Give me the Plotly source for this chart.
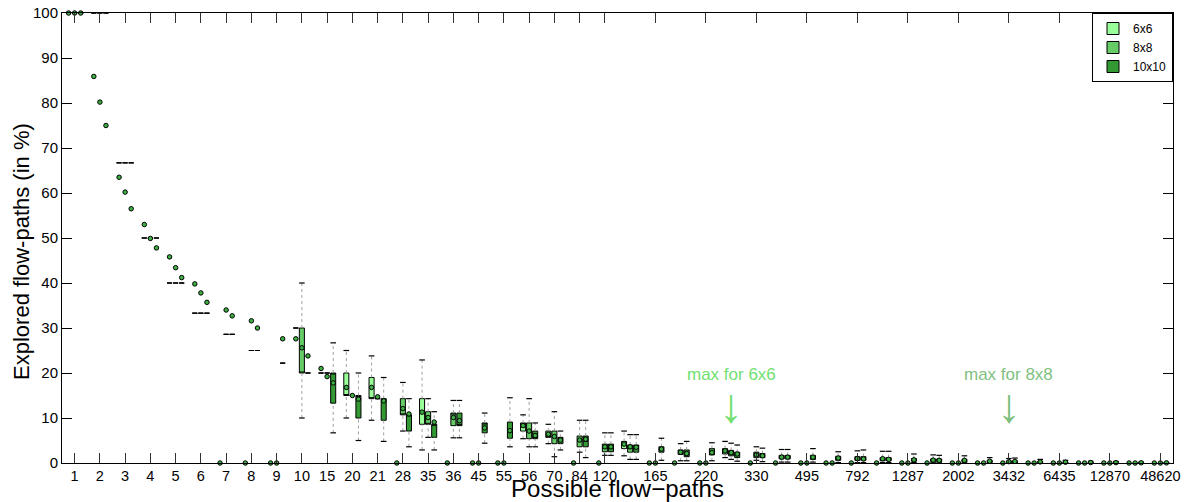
import plotly.graph_objects as go

# ---------------- data ----------------
categories = ["1", "2", "3", "4", "5", "6", "7", "8", "9", "10", "15", "20", "21", "28", "35", "36",
              "45", "55", "56", "70", "84", "120", "126", "165", "210", "220", "252", "330", "462",
              "495", "715", "792", "924", "1287", "1716", "2002", "3003", "3432", "5005", "6435",
              "11440", "12870", "24310", "48620"]
tick_labels = ["1", "2", "3", "4", "5", "6", "7", "8", "9", "10", "15", "20", "21", "28", "35", "36",
               "45", "55", "56", "70", "84", "120", "165", "220", "330", "495", "792", "1287", "2002",
               "3432", "6435", "12870", "48620"]
groups = ["6x6", "8x8", "10x10"]
N = None

# 6x6
q1_6 = [100, 100, 66.7, 50, 40, 33.3, N, N, N, 30, 20, 15, 14.3, N, 8.6, N, N, N, 7.1, 5.7, N, N, 3.2, N, N, N, 2.0] + [N] * 17
q3_6 = [100, 100, 66.7, 50, 40, 33.3, N, N, N, 30, 20, 20, 19.0, N, 14.3, N, N, N, 8.9, 7.1, N, N, 4.8, N, N, N, 3.2] + [N] * 17
med_6 = [100, 100, 66.7, 50, 40, 33.3, N, N, N, 30, 20, 15, 14.3, N, 11.4, N, N, N, 8.9, 5.7, N, N, 4.0, N, N, N, 2.8] + [N] * 17
lo_6 = [100, 100, 66.7, 50, 40, 33.3, N, N, N, 30, 20, 10, 9.5, N, 2.9, N, N, N, 5.4, 4.3, N, N, 1.6, N, N, N, 1.2] + [N] * 17
hi_6 = [100, 100, 66.7, 50, 40, 33.3, N, N, N, 30, 20, 25, 23.8, N, 22.9, N, N, N, 10.7, 8.6, N, N, 7.1, N, N, N, 4.8] + [N] * 17
mean_6 = [100, 85.9, 63.5, 53.0, 45.8, 39.8, 0, 0, 0, 27.6, 21.0, 16.8, 16.8, 0, 11.3, 0, 0, 0, 8.3, 6.4, 0, 0, 4.2, 0, 0, 0, 2.7] + [0] * 17

# 8x8
q1_8 = [100, 100, 66.7, 50, 40, 33.3, 28.6, 25, N, 20, 20, 15, 14.3, 10.7, 8.6, 8.3, N, N, 5.4, 4.3, 3.6, 2.5, 2.4, N, 1.9, N, 1.6, 1.2, 0.9, N, N, 0.6, 0.5, N, 0.35, N, N, 0.15] + [N] * 6
q3_8 = [100, 100, 66.7, 50, 40, 33.3, 28.6, 25, N, 30, 20, 15, 14.3, 14.3, 11.4, 11.1, N, N, 8.9, 7.1, 6.0, 4.2, 4.0, N, 2.9, N, 2.8, 2.4, 1.7, N, N, 1.4, 1.2, N, 0.9, N, N, 0.45] + [N] * 6
med_8 = [100, 100, 66.7, 50, 40, 33.3, 28.6, 25, N, 20, 20, 15, 14.3, 10.7, 8.6, 11.1, N, N, 7.1, 5.7, 4.8, 3.3, 3.2, N, 2.4, N, 2.4, 1.8, 1.3, N, N, 1.0, 0.9, N, 0.6, N, N, 0.3] + [N] * 6
lo_8 = [100, 100, 66.7, 50, 40, 33.3, 28.6, 25, N, 10, 20, 15, 14.3, 7.1, 5.7, 5.6, N, N, 3.6, 1.4, 2.4, 1.7, 0.8, N, 0.5, N, 0.8, 0.6, 0.2, N, N, 0.1, 0.1, N, 0.06, N, N, 0.03] + [N] * 6
hi_8 = [100, 100, 66.7, 50, 40, 33.3, 28.6, 25, N, 40, 20, 15, 14.3, 17.9, 14.3, 13.9, N, N, 14.3, 11.4, 9.5, 6.7, 6.3, N, 4.3, N, 4.4, 3.6, 3.0, N, N, 2.7, 2.6, N, 1.8, N, N, 1.0] + [N] * 6
mean_8 = [100, 80.2, 60.2, 49.9, 43.4, 37.8, 34.0, 31.6, 0, 25.6, 19.2, 15.0, 14.7, 12.1, 10.1, 10.1, 0, 0, 7.1, 5.9, 5.1, 3.6, 3.6, 0, 2.4, 0, 2.3, 1.8, 1.3, 0, 0, 1.0, 0.95, 0, 0.65, 0, 0, 0.3] + [0] * 6

# 10x10
q1_10 = [100, 100, 66.7, 50, 40, 33.3, 28.6, 25, 22.2, 20, 13.3, 10, 9.5, 7.1, 5.7, 8.3, 6.7, 5.5, 5.4, 4.3, 3.6, 2.5,
         2.4, 2.4, 1.4, 1.8, 1.2, 1.2, 0.9, 0.8, 0.6, 0.6, 0.5, 0.4, 0.3, 0.25, 0.15, 0.12, 0.08, 0.06, 0.03, 0.03, 0.01, 0.01]
q3_10 = [100, 100, 66.7, 50, 40, 33.3, 28.6, 25, 22.2, 20, 20, 15, 14.3, 10.7, 8.6, 11.1, 8.9, 9.1, 7.1, 5.7, 6.0, 4.2,
         4.0, 3.6, 2.9, 3.2, 2.4, 2.1, 1.7, 1.7, 1.5, 1.4, 1.2, 1.0, 0.9, 0.8, 0.6, 0.5, 0.35, 0.25, 0.15, 0.12, 0.06, 0.04]
med_10 = [100, 100, 66.7, 50, 40, 33.3, 28.6, 25, 22.2, 20, 20, 15, 14.3, 10.7, 8.6, 8.3, 8.9, 7.3, 5.4, 5.7, 4.8, 3.3,
          3.2, 3.0, 1.9, 2.3, 2.0, 1.5, 1.3, 1.2, 1.0, 0.9, 0.8, 0.7, 0.6, 0.55, 0.4, 0.3, 0.2, 0.15, 0.08, 0.07, 0.04, 0.02]
lo_10 = [100, 100, 66.7, 50, 40, 33.3, 28.6, 25, 22.2, 20, 6.7, 5, 4.8, 3.6, 2.9, 5.6, 4.4, 3.6, 3.6, 2.9, 1.2, 1.7,
         0.8, 0.6, 0.5, 0.5, 0.4, 0.3, 0.2, 0.2, 0.1, 0.1, 0.1, 0.1, 0.05, 0.05, 0.03, 0.03, 0.02, 0.02, 0.01, 0.01, 0.0, 0.0]
hi_10 = [100, 100, 66.7, 50, 40, 33.3, 28.6, 25, 22.2, 20, 26.7, 20, 19.0, 14.3, 11.4, 13.9, 11.1, 14.5, 8.9, 7.1, 9.5, 6.7,
         6.3, 5.5, 4.8, 4.5, 4.0, 3.3, 3.0, 3.2, 2.5, 2.9, 2.6, 2.0, 1.7, 1.6, 1.2, 1.1, 0.8, 0.6, 0.4, 0.35, 0.2, 0.1]
mean_10 = [100, 75.0, 56.5, 47.8, 41.2, 35.7, 32.7, 30.0, 27.6, 23.8, 17.8, 14.2, 13.8, 10.9, 9.1, 9.4, 7.8, 7.2, 6.1, 5.1, 5.3, 3.6,
           3.5, 3.1, 2.1, 2.3, 2.0, 1.6, 1.3, 1.3, 1.1, 0.9, 0.8, 0.7, 0.6, 0.6, 0.4, 0.35, 0.25, 0.18, 0.1, 0.08, 0.05, 0.03]

# ---------------- style ----------------
box_colors = ["#99ff99", "#66cc66", "#339933"]
group_offsets = [-0.24, 0.0, 0.24]
FONT = "Liberation Sans, Arial, Helvetica, sans-serif"

data = [
    (q1_6, med_6, q3_6, lo_6, hi_6, mean_6),
    (q1_8, med_8, q3_8, lo_8, hi_8, mean_8),
    (q1_10, med_10, q3_10, lo_10, hi_10, mean_10),
]

fig = go.Figure()
pos = list(range(1, len(categories) + 1))

whisk_x, whisk_y, cap_x, cap_y, mean_x, mean_y = [], [], [], [], [], []
for g, (q1, med, q3, lo, hi, mean) in enumerate(data):
    off = group_offsets[g]
    bx, bq1, bmed, bq3 = [], [], [], []
    for i, p in enumerate(pos):
        mean_x.append(p + off)
        mean_y.append(mean[i])
        if q1[i] is None:
            continue
        bx.append(p + off)
        bq1.append(q1[i]); bmed.append(med[i]); bq3.append(q3[i])
        if lo[i] < q1[i]:
            whisk_x += [p + off, p + off, None]
            whisk_y += [lo[i], q1[i], None]
            cap_x.append(p + off); cap_y.append(lo[i])
        if hi[i] > q3[i]:
            whisk_x += [p + off, p + off, None]
            whisk_y += [q3[i], hi[i], None]
            cap_x.append(p + off); cap_y.append(hi[i])
    fig.add_trace(go.Box(
        name=groups[g], x=bx, q1=bq1, median=bmed, q3=bq3,
        lowerfence=bq1, upperfence=bq3, width=0.2, whiskerwidth=0,
        fillcolor=box_colors[g], line=dict(color="black", width=1),
        boxpoints=False, hoverinfo="skip", showlegend=True,
    ))

fig.add_trace(go.Scatter(x=whisk_x, y=whisk_y, mode="lines",
                         line=dict(color="#a0a0a0", width=1, dash="dot"),
                         showlegend=False, hoverinfo="skip"))
fig.add_trace(go.Scatter(x=cap_x, y=cap_y, mode="markers",
                         marker=dict(symbol="line-ew", size=4, line=dict(color="black", width=1.2)),
                         showlegend=False, hoverinfo="skip"))
fig.add_trace(go.Scatter(x=mean_x, y=mean_y, mode="markers", cliponaxis=False,
                         marker=dict(symbol="circle", size=4.5, color="#3cb043",
                                     line=dict(color="black", width=1)),
                         showlegend=False, hoverinfo="skip"))

tickvals = [pos[categories.index(t)] for t in tick_labels]

fig.update_layout(
    width=1185, height=502,
    margin=dict(l=62, r=12, t=13, b=39, autoexpand=False),
    paper_bgcolor="white", plot_bgcolor="white",
    font=dict(family=FONT, size=15, color="black"),
    boxmode="overlay",
    showlegend=True,
    legend=dict(x=1, y=1, xanchor="right", yanchor="top", bgcolor="white",
                bordercolor="black", borderwidth=1, font=dict(size=12),
                itemwidth=30, tracegroupgap=0),
    xaxis=dict(range=[0.5, 44.5], tickmode="array", tickvals=tickvals, ticktext=tick_labels,
               ticks="inside", ticklen=10, tickcolor="#333333", showline=True, linecolor="black",
               linewidth=1, mirror="ticks", showgrid=False, zeroline=False, automargin=False,
               tickfont=dict(size=14.5),
               title=dict(text="Possible flow\u2212paths", font=dict(size=24), standoff=2)),
    yaxis=dict(range=[0, 100], tickmode="linear", tick0=0, dtick=10,
               ticks="inside", ticklen=10, tickcolor="black", showline=True, linecolor="black",
               linewidth=1, mirror="ticks", showgrid=False, zeroline=False, automargin=False,
               tickfont=dict(size=15)),
)

fig.add_annotation(xref="paper", x=0, xshift=-40, y=46.9, text="Explored flow-paths (in %)",
                   textangle=-90, showarrow=False, xanchor="center", yanchor="middle",
                   font=dict(size=22))
fig.add_annotation(x=pos[categories.index("252")], y=19.6, text="max for 6x6", showarrow=False,
                   font=dict(size=17, color="#70e070"))
fig.add_annotation(x=pos[categories.index("252")], y=12.8, text="\u2193", showarrow=False,
                   font=dict(size=48, color="#70e070", family="Liberation Sans"))
fig.add_annotation(x=pos[categories.index("3432")], y=19.6, text="max for 8x8", showarrow=False,
                   font=dict(size=17, color="#7fbf7f"))
fig.add_annotation(x=pos[categories.index("3432")], y=12.8, text="\u2193", showarrow=False,
                   font=dict(size=48, color="#7fbf7f", family="Liberation Sans"))

fig.write_html("out.html", config={"displayModeBar": False},
               post_script="document.body.style.margin='0px';")
